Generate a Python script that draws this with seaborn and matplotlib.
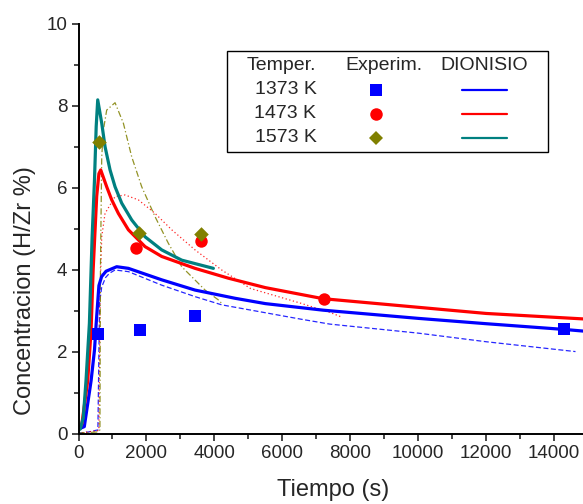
import matplotlib
matplotlib.use("Agg")
import matplotlib.pyplot as plt
import seaborn as sns
import pandas as pd
from matplotlib.patches import Rectangle

sns.set_style("white")
plt.rcParams['font.family'] = ['Liberation Sans', 'DejaVu Sans']

# --- data ---
temps = ["1373 K", "1473 K", "1573 K"]
exp_colors = ["#0000ff", "#ff0000", "#808000"]
exp_markers = ["s", "o", "D"]
exp_sizes = [70, 80, 55]
dion_colors = ["#0000ff", "#ff0000", "#008080"]

# experimental points
exp_t_1373 = [570, 1820, 3415, 14300]
exp_c_1373 = [2.43, 2.54, 2.88, 2.55]
exp_t_1473 = [1700, 3605, 7220]
exp_c_1473 = [4.53, 4.70, 3.29]
exp_t_1573 = [600, 1785, 3615]
exp_c_1573 = [7.12, 4.91, 4.87]

# DIONISIO (solid)
dion_t_1373 = [0, 170, 370, 470, 520, 600, 680, 811, 1124, 1468, 2449, 3430, 4608, 5500,
               7200, 10000, 12000, 14300, 15000]
dion_c_1373 = [0.12, 0.18, 1.3, 2.05, 2.7, 3.62, 3.84, 3.97, 4.08, 4.04, 3.76, 3.51, 3.31, 3.18,
               3.02, 2.82, 2.69, 2.55, 2.5]
dion_t_1473 = [0, 100, 270, 370, 430, 535, 600, 653, 829, 977, 1173, 1468, 1958, 2449,
               3430, 4411, 5500, 7200, 10000, 12000, 15000]
dion_c_1473 = [0.1, 0.25, 1.3, 2.54, 4.0, 5.8, 6.35, 6.44, 6.03, 5.71, 5.38, 4.98, 4.57, 4.33,
               4.04, 3.80, 3.57, 3.30, 3.09, 2.94, 2.80]
dion_t_1573 = [0, 50, 140, 220, 320, 400, 470, 520, 565, 683, 780, 928, 1075, 1271, 1566,
               1958, 2449, 3038, 3970]
dion_c_1573 = [0.1, 0.12, 0.4, 1.3, 2.7, 4.8, 6.2, 7.5, 8.15, 7.58, 7.01, 6.44, 6.03, 5.63, 5.22,
               4.81, 4.49, 4.24, 4.04]

# other model curves (thin, not in legend)
alt_t_1373 = [0, 300, 570, 600, 620, 683, 800, 910, 1075, 1468, 2449, 3430, 4215, 6550, 7400,
              10000, 12000, 14630]
alt_c_1373 = [0.02, 0.05, 0.1, 2.0, 3.2, 3.59, 3.82, 3.92, 4.0, 3.96, 3.63, 3.35, 3.15, 2.80, 2.68,
              2.46, 2.25, 2.01]
alt_t_1473 = [0, 560, 600, 635, 683, 780, 1075, 1369, 1762, 2253, 2744, 3430, 4215, 5060,
              6540, 7420, 7720]
alt_c_1473 = [0.02, 0.08, 0.1, 3.5, 4.81, 5.38, 5.79, 5.83, 5.71, 5.38, 4.98, 4.49, 4.0, 3.55,
              3.19, 2.96, 2.86]
alt_t_1573 = [0, 560, 630, 645, 683, 731, 829, 1075, 1320, 1566, 1860, 2253, 2645, 3038,
              3725, 4117, 4200]
alt_c_1573 = [0.02, 0.05, 0.1, 4.0, 6.76, 7.41, 7.9, 8.08, 7.58, 6.76, 6.03, 5.3, 4.65, 4.08,
              3.51, 3.27, 3.2]
alt_colors = ["#0000ff", "#ff0000", "#808000"]
alt_dashes = [(4, 2), (1, 2), (5, 2, 1, 2)]

exp_df = pd.concat([
    pd.DataFrame({"t": exp_t_1373, "c": exp_c_1373, "T": temps[0]}),
    pd.DataFrame({"t": exp_t_1473, "c": exp_c_1473, "T": temps[1]}),
    pd.DataFrame({"t": exp_t_1573, "c": exp_c_1573, "T": temps[2]}),
])
dion = [(dion_t_1373, dion_c_1373), (dion_t_1473, dion_c_1473), (dion_t_1573, dion_c_1573)]
alt = [(alt_t_1373, alt_c_1373), (alt_t_1473, alt_c_1473), (alt_t_1573, alt_c_1573)]

fig = plt.figure(figsize=(5.83, 5.04), dpi=100)
ax = fig.add_axes([0.1347, 0.1389, 0.874, 0.8135])

# thin model curves underneath
for (t, c), col, d in zip(alt, alt_colors, alt_dashes):
    sns.lineplot(x=t, y=c, ax=ax, color=col, lw=0.9, sort=False, estimator=None)
    ax.lines[-1].set_dashes(d)
    ax.lines[-1].set_alpha(0.85)

# DIONISIO curves
for (t, c), col in zip(dion, dion_colors):
    sns.lineplot(x=t, y=c, ax=ax, color=col, lw=2.3, sort=False, estimator=None)
    ax.lines[-1].set_solid_joinstyle("round")

# experimental points
for T, col, m, s in zip(temps, exp_colors, exp_markers, exp_sizes):
    sub = exp_df[exp_df["T"] == T]
    sns.scatterplot(data=sub, x="t", y="c", ax=ax, color=col, marker=m, s=s,
                    linewidth=0, zorder=5)

ax.set_xlim(0, 15000)
ax.set_ylim(0, 10)
ax.set_xticks(range(0, 15000, 2000))
ax.set_xticks(range(1000, 15000, 2000), minor=True)
ax.set_yticks(range(0, 11, 2))
ax.set_yticks(range(1, 10, 2), minor=True)
ax.tick_params(which="major", direction="out", length=5, width=1.2, labelsize=13.5,
               bottom=True, left=True, pad=3)
ax.tick_params(which="minor", direction="out", length=3.5, width=1.2, bottom=True, left=True)
for side in ["top", "right"]:
    ax.spines[side].set_visible(False)
for side in ["left", "bottom"]:
    ax.spines[side].set_linewidth(1.4)
    ax.spines[side].set_color("black")
ax.set_xlabel("Tiempo (s)", fontsize=17, labelpad=12)
ax.set_ylabel("Concentracion (H/Zr %)", fontsize=17)
ax.yaxis.set_label_coords(-0.084, 0.351)

# table style legend
ax.add_patch(Rectangle((0.292, 0.688), 0.629, 0.246, transform=ax.transAxes,
                       facecolor="white", edgecolor="black", lw=1.0, zorder=6))
fs = 14
head_y = 0.898
row_dy = 0.0585
ax.text(0.467, head_y, "Temper.", transform=ax.transAxes, fontsize=fs, ha="right",
        va="center", zorder=7)
ax.text(0.599, head_y, "Experim.", transform=ax.transAxes, fontsize=fs, ha="center",
        va="center", zorder=7)
ax.text(0.796, head_y, "DIONISIO", transform=ax.transAxes, fontsize=fs, ha="center",
        va="center", zorder=7)
for i, T in enumerate(temps):
    y = head_y - row_dy * (i + 1)
    ax.text(0.467, y, T, transform=ax.transAxes, fontsize=fs, ha="right", va="center",
            zorder=7)
    ax.plot([0.583], [y], transform=ax.transAxes, marker=exp_markers[i], ls="none",
            color=exp_colors[i], ms=[8.5, 9, 7][i], mew=0, zorder=7, clip_on=False)
    ax.plot([0.752, 0.840], [y, y], transform=ax.transAxes, color=dion_colors[i],
            lw=1.6, zorder=7, clip_on=False)

fig.savefig("out.png", dpi=100)
